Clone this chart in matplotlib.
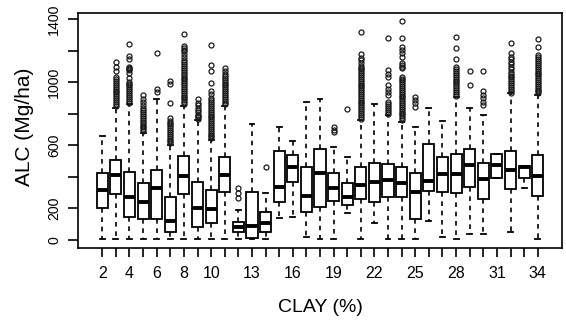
import numpy as np
import matplotlib
matplotlib.use("Agg")
import matplotlib.pyplot as plt

plt.rcParams['font.family'] = ['Liberation Sans', 'DejaVu Sans']

clay = list(range(2, 35))
shown_labels = [2, 4, 6, 8, 10, 13, 16, 19, 22, 25, 28, 31, 34]

q1 = [201, 292, 144, 133, 133, 53, 290, 85, 110, 307, 53, 11, 53, 239, 366, 176, 211,
      247, 222, 260, 239, 271, 271, 133, 311, 307, 300, 338, 258, 395, 324, 391, 279]
med = [317, 412, 275, 243, 332, 120, 408, 205, 195, 412, 85, 89, 106, 338, 465, 281, 423,
       332, 271, 349, 370, 381, 364, 302, 374, 419, 419, 476, 387, 476, 444, 461, 408]
q3 = [423, 507, 433, 359, 444, 271, 533, 366, 317, 529, 116, 307, 176, 565, 539, 461, 575,
      423, 359, 461, 491, 480, 461, 423, 607, 529, 546, 577, 486, 546, 565, 469, 539]
whislo = [8, 8, 8, 8, 8, 8, 8, 8, 8, 8, 8, 6, 8, 137, 144, 17, 8,
          8, 169, 8, 110, 8, 8, 8, 121, 18, 8, 36, 36, 395, 53, 328, 8]
whishi = [662, 840, 861, 680, 895, 605, 850, 761, 635, 850, 190, 734, 300, 715, 628, 873, 892,
          592, 525, 761, 861, 795, 751, 714, 835, 755, 905, 836, 793, 546, 930, 469, 920]

outliers = [
    [],
    [852, 864, 876, 888, 900, 912, 924, 936, 948, 960, 972, 984, 996, 1008, 1020, 1036,
     1072, 1100, 1127],
    [872, 884, 896, 908, 920, 932, 944, 956, 968, 980, 992, 1004, 1030, 1058, 1079, 1086,
     1093, 1100, 1148, 1169, 1242],
    [690, 702, 714, 726, 738, 750, 762, 774, 786, 798, 810, 822, 836, 857, 878, 895, 920],
    [937, 958, 1185],
    [613, 625, 637, 649, 661, 673, 685, 697, 709, 721, 733, 745, 757, 772, 867, 988, 1009],
    [862, 874, 886, 898, 910, 922, 934, 946, 958, 970, 982, 994, 1006, 1018, 1030, 1042,
     1054, 1066, 1078, 1090, 1102, 1114, 1126, 1140, 1160, 1180, 1196, 1208, 1220, 1232,
     1305],
    [770, 778, 786, 795, 810, 825, 840, 855, 870, 893],
    [645, 657, 669, 681, 693, 705, 717, 729, 741, 753, 765, 777, 789, 801, 813, 825, 837,
     849, 861, 873, 885, 899, 924, 945, 994, 1075, 1110, 1237],
    [860, 872, 884, 896, 908, 920, 932, 944, 956, 968, 980, 992, 1004, 1016, 1028, 1040,
     1055, 1070, 1089],
    [264, 296, 332],
    [],
    [461],
    [],
    [],
    [],
    [],
    [687, 700, 715],
    [831],
    [770, 782, 794, 806, 818, 830, 842, 854, 866, 878, 890, 902, 914, 926, 938, 950, 962,
     974, 986, 998, 1010, 1022, 1034, 1046, 1058, 1070, 1082, 1094, 1106, 1120, 1140, 1156,
     1178, 1318],
    [],
    [800, 812, 824, 836, 848, 860, 875, 920, 940, 960, 984, 1036, 1055, 1079, 1280],
    [760, 772, 784, 796, 808, 820, 832, 844, 856, 868, 880, 892, 904, 916, 928, 940, 952,
     964, 976, 988, 1000, 1012, 1024, 1036, 1089, 1100, 1110, 1121, 1163, 1185, 1205, 1227,
     1280, 1390],
    [846, 866, 888, 909],
    [],
    [],
    [915, 927, 939, 951, 963, 975, 987, 999, 1011, 1023, 1035, 1047, 1059, 1071, 1083,
     1100, 1146, 1216, 1290],
    [984, 1072],
    [857, 875, 900, 920, 945, 1072],
    [],
    [935, 947, 959, 971, 983, 995, 1007, 1019, 1031, 1043, 1055, 1068, 1085, 1100, 1115,
     1130, 1145, 1160, 1185, 1248],
    [],
    [930, 942, 954, 966, 978, 990, 1002, 1014, 1026, 1038, 1050, 1062, 1074, 1086, 1098,
     1110, 1122, 1134, 1146, 1160, 1174, 1227, 1275],
]

y_ticks = [0, 200, 400, 600, 800, 1000, 1200, 1400]
y_ticklabels = ['0', '200', '', '600', '', '1000', '', '1400']

W, H = 566, 322
fig = plt.figure(figsize=(W / 100, H / 100), dpi=100)
L, R, T, B = 78.3, 561.7, 13.3, 248.3
ax = fig.add_axes([L / W, 1 - B / H, (R - L) / W, (B - T) / H])

stats = []
for i in range(len(clay)):
    stats.append(dict(med=med[i], q1=q1[i], q3=q3[i], whislo=whislo[i],
                      whishi=whishi[i], fliers=np.array(outliers[i], dtype=float)))

ax.bxp(stats, positions=clay, widths=0.82, capwidths=0.36, showfliers=True,
       patch_artist=True, manage_ticks=False,
       boxprops=dict(facecolor='white', edgecolor='black', linewidth=1.3),
       medianprops=dict(color='black', linewidth=2.8, solid_capstyle='butt'),
       whiskerprops=dict(color='black', linewidth=1.2, linestyle=(0, (2.8, 2.8))),
       capprops=dict(color='black', linewidth=1.3),
       flierprops=dict(marker='o', markersize=3.6, markerfacecolor='none',
                       markeredgecolor='#1a1a1a', markeredgewidth=0.9))

ax.set_xlim(0.24, 35.76)
ax.set_ylim(-53, 1438)

ax.set_xticks(clay)
ax.set_xticklabels([str(c) if c in shown_labels else '' for c in clay])
ax.set_yticks(y_ticks)
ax.set_yticklabels(y_ticklabels)

ax.tick_params(axis='x', direction='out', length=6.8, width=1.2, pad=6.0,
               labelsize=11.5, colors='black')
ax.tick_params(axis='y', direction='out', length=7.2, width=1.2, pad=5.0,
               labelsize=10.2, colors='black', labelrotation=90)
for lab in ax.get_yticklabels():
    lab.set_va('center')

for s in ax.spines.values():
    s.set_linewidth(1.2)
    s.set_color('black')

fig.text(320 / W, 1 - 308 / H, 'CLAY (%)', ha='center', va='center', fontsize=14)
fig.text(25 / W, 1 - 127 / H, 'ALC (Mg/ha)', ha='center', va='center', rotation=90,
         fontsize=15)

fig.savefig('out.png', dpi=100)
